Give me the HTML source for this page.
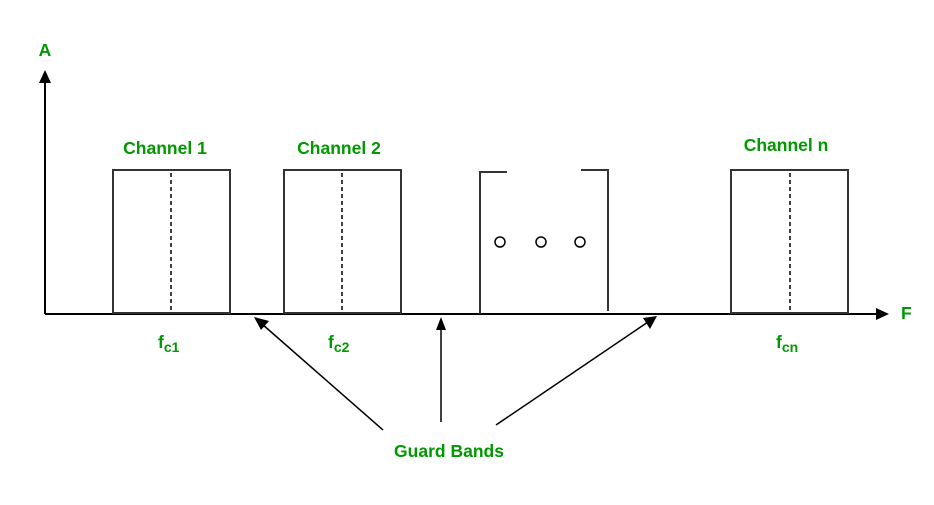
<!DOCTYPE html>
<html><head><style>body{margin:0;background:#fff}</style></head><body>
<svg width="934" height="500" viewBox="0 0 934 500" xmlns="http://www.w3.org/2000/svg" font-family="Liberation Sans, sans-serif" font-weight="bold">
<rect width="934" height="500" fill="#fff"/>
<g stroke="#000" stroke-width="2" fill="none">
<line x1="45" y1="314" x2="45" y2="82"/>
<line x1="45" y1="314" x2="876" y2="314"/>
</g>
<polygon points="45,70 39,83 51,83" fill="#000"/>
<polygon points="889,314 876,308 876,320" fill="#000"/>
<g stroke="#333" stroke-width="2" fill="none">
<rect x="113" y="170" width="117" height="143"/>
<rect x="284" y="170" width="117" height="143"/>
<rect x="731" y="170" width="117" height="143"/>
<polyline points="479,172 507,172"/>
<line x1="480" y1="172" x2="480" y2="314"/>
<polyline points="581,170 608,170 608,311"/>
</g>
<g stroke="#000" stroke-width="1.5" stroke-dasharray="4,3">
<line x1="171" y1="173" x2="171" y2="312"/>
<line x1="342" y1="173" x2="342" y2="312"/>
<line x1="790" y1="173" x2="790" y2="312"/>
</g>
<g stroke="#000" stroke-width="1.5" fill="none">
<circle cx="500" cy="242" r="5"/><circle cx="541" cy="242" r="5"/><circle cx="580" cy="242" r="5"/>
<line x1="383" y1="430" x2="262" y2="324"/>
<line x1="441" y1="422" x2="441" y2="328"/>
<line x1="496" y1="425" x2="648" y2="322"/>
</g>
<polygon points="254,317 269,321 261,330" fill="#000"/>
<polygon points="441,317 436,330 446,330" fill="#000"/>
<polygon points="657,316 643,318 650,329" fill="#000"/>
<g fill="#009900" font-size="17.5">
<text x="45" y="56" text-anchor="middle">A</text>
<text x="165" y="154" text-anchor="middle">Channel 1</text>
<text x="339" y="154" text-anchor="middle">Channel 2</text>
<text x="786" y="151" text-anchor="middle">Channel n</text>
<text x="901" y="319">F</text>
<text x="158" y="348">f<tspan font-size="14" dy="4">c1</tspan></text>
<text x="328" y="348">f<tspan font-size="14" dy="4">c2</tspan></text>
<text x="776" y="348">f<tspan font-size="14" dy="4">cn</tspan></text>
<text x="449" y="457" text-anchor="middle">Guard Bands</text>
</g>
</svg>
</body></html>
